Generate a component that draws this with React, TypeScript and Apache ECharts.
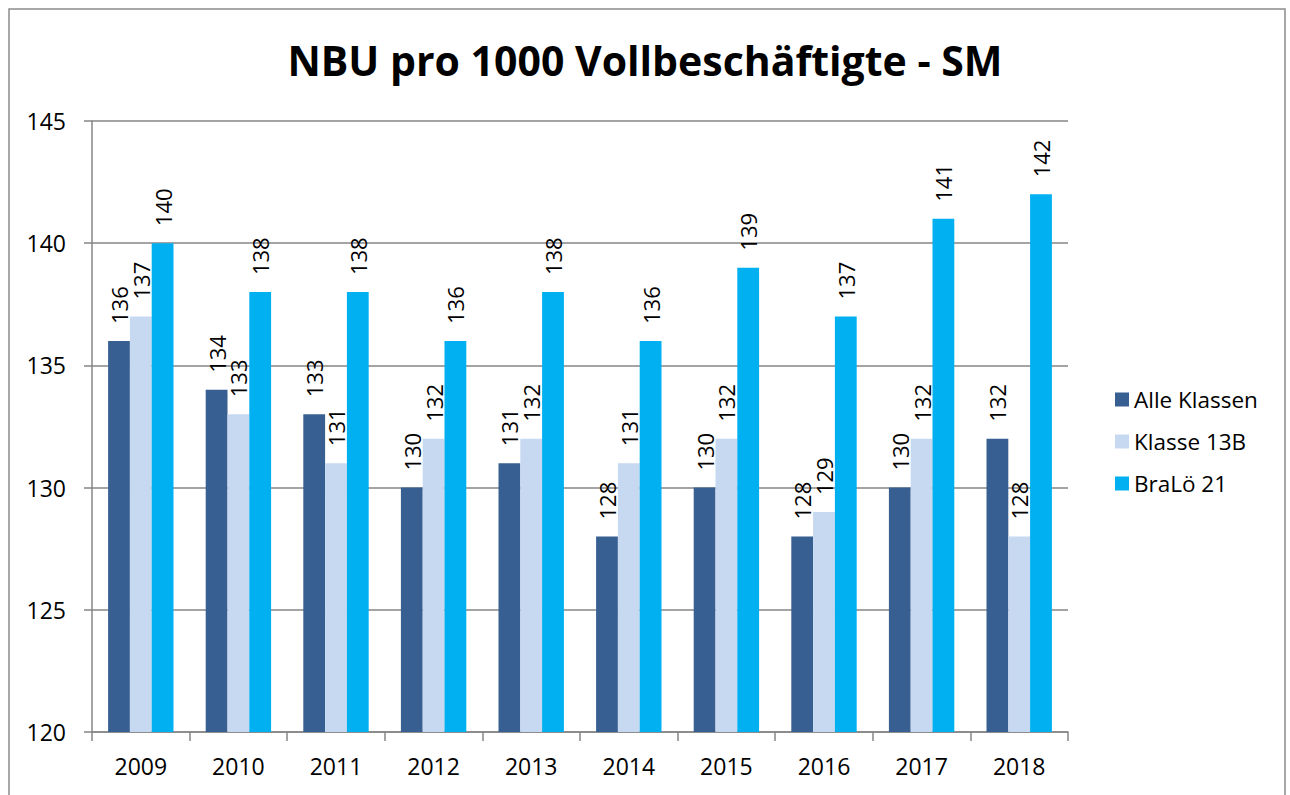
import React, { useEffect, useRef } from "react";
import * as echarts from "echarts";

const years = ["2009", "2010", "2011", "2012", "2013", "2014", "2015", "2016", "2017", "2018"];
const alleKlassen = [136, 134, 133, 130, 131, 128, 130, 128, 130, 132];
const klasse13B = [137, 133, 131, 132, 132, 131, 132, 129, 132, 128];
const braLoe21 = [140, 138, 138, 136, 138, 136, 139, 137, 141, 142];
const seriesNames = ["Alle Klassen", "Klasse 13B", "BraLö 21"];
const colors = ["#375F91", "#C6D9F1", "#00B0F0"];

const FONT = "'Open Sans', 'Noto Sans', sans-serif";

export default function App() {
  const ref = useRef<HTMLDivElement>(null);
  useEffect(() => {
    document.body.style.margin = "0";
    const chart = echarts.init(ref.current!, null, { renderer: "svg" });
    const data = [alleKlassen, klasse13B, braLoe21];
    chart.setOption({
      animation: false,
      backgroundColor: "#ffffff",
      textStyle: { fontFamily: FONT },
      title: {
        text: "NBU pro 1000 Vollbeschäftigte - SM",
        left: "center",
        top: 34,
        textStyle: { fontFamily: FONT, fontSize: 41, fontWeight: "bold", color: "#000" },
      },
      graphic: [
        {
          type: "rect",
          shape: { x: 9, y: 9, width: 1276, height: 800 },
          style: { fill: "none", stroke: "#8c8c8c", lineWidth: 1.5 },
          silent: true,
          z: -1,
        },
      ],
      legend: {
        orient: "vertical",
        left: 1110,
        top: 383,
        itemWidth: 14,
        itemHeight: 14,
        itemGap: 19,
        icon: "rect",
        textStyle: { fontFamily: FONT, fontSize: 22.5, color: "#000" },
        data: seriesNames,
      },
      grid: { left: 92, right: 222, top: 121, bottom: 63, containLabel: false },
      xAxis: {
        type: "category",
        data: years,
        axisLine: { lineStyle: { color: "#868686", width: 1.5 } },
        axisTick: { show: true, length: 9, alignWithLabel: false, lineStyle: { color: "#868686", width: 1.5 } },
        axisLabel: { fontFamily: FONT, fontSize: 23, color: "#000", margin: 22 },
      },
      yAxis: {
        type: "value",
        min: 120,
        max: 145,
        interval: 5,
        axisLine: { show: true, lineStyle: { color: "#868686", width: 1.5 } },
        axisTick: { show: true, length: 8, lineStyle: { color: "#868686", width: 1.5 } },
        axisLabel: { fontFamily: FONT, fontSize: 23, color: "#000", margin: 26 },
        splitLine: { lineStyle: { color: "#868686", width: 1.5 } },
      },
      series: seriesNames.map((name, i) => ({
        name,
        type: "bar",
        data: data[i],
        barGap: "0%",
        barCategoryGap: "33%",
        itemStyle: { color: colors[i] },
        label: {
          show: true,
          position: "top",
          rotate: 90,
          align: "left",
          verticalAlign: "middle",
          distance: 17,
          fontFamily: FONT,
          fontSize: 22,
          color: "#000",
        },
      })),
    });
    return () => chart.dispose();
  }, []);
  return <div ref={ref} style={{ width: 1290, height: 795 }} />;
}
